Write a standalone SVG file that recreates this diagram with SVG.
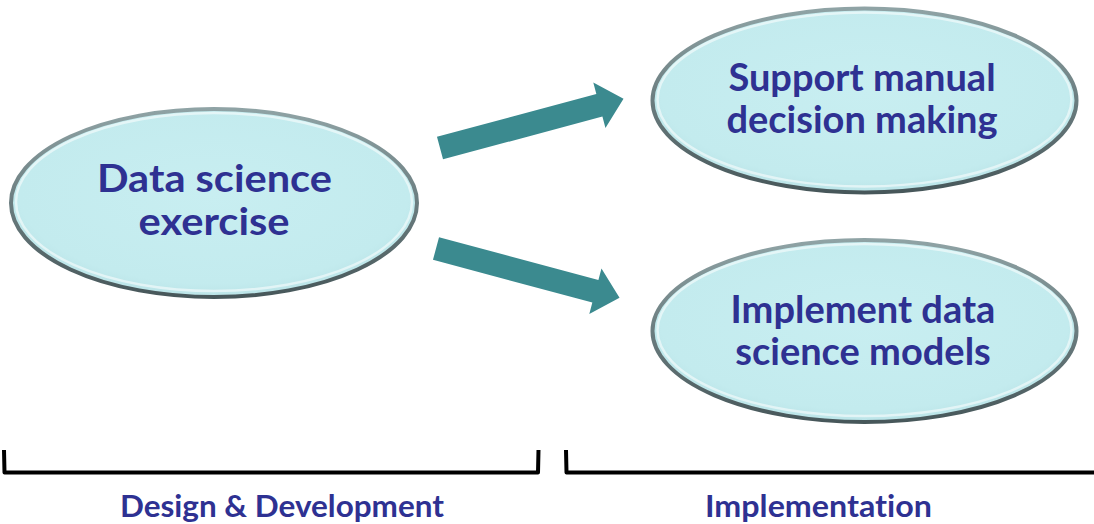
<svg xmlns="http://www.w3.org/2000/svg" width="1094" height="524" viewBox="0 0 1094 524">
<style>
.lbl{font-family:Lato,"Open Sans","Liberation Sans",sans-serif;font-weight:bold;fill:#2E3192;text-anchor:middle;font-variant-ligatures:none}
.big{font-size:38px}
.small{font-size:30px}
.arrow{fill:#3B8A8F}
.bracket{fill:none;stroke:#000;stroke-width:4;stroke-linejoin:round}
.oval{fill:url(#fillG);stroke:url(#edgeG);stroke-width:4}
.hi{fill:none;stroke:#ffffff;stroke-opacity:0.55;stroke-width:2.5}
</style>
<defs>
<radialGradient id="fillG" cx="0.5" cy="0.45" r="0.6">
<stop offset="0" stop-color="#C8EEF1"/>
<stop offset="0.8" stop-color="#C3EBEE"/>
<stop offset="1" stop-color="#B5DFE3"/>
</radialGradient>
<linearGradient id="edgeG" x1="0" y1="0" x2="0" y2="1">
<stop offset="0" stop-color="#8FA3A5"/>
<stop offset="1" stop-color="#47575A"/>
</linearGradient>
<polygon id="arr" points="0,-11.7 165,-11.7 165,-23.5 190,0 165,23.5 165,11.7 0,11.7"/>
</defs>
<rect width="1094" height="524" fill="#ffffff"/>
<g id="connectors">
<use href="#arr" class="arrow" transform="translate(440,148) rotate(-15)"/>
<use href="#arr" class="arrow" transform="translate(436,248.5) rotate(15)"/>
</g>
<g id="node-exercise">
<ellipse class="oval" cx="214" cy="203" rx="203" ry="94"/>
<ellipse class="hi" cx="214" cy="202" rx="198" ry="89"/>
<text class="lbl big"><tspan x="214.5" y="191.5" textLength="235" lengthAdjust="spacingAndGlyphs">Data science</tspan><tspan x="214" y="235" textLength="151" lengthAdjust="spacingAndGlyphs">exercise</tspan></text>
</g>
<g id="node-support">
<ellipse class="oval" cx="864.5" cy="100.5" rx="212" ry="92"/>
<ellipse class="hi" cx="864.5" cy="99.5" rx="207" ry="87"/>
<text class="lbl big"><tspan x="862" y="91">Support manual</tspan><tspan x="862" y="133">decision making</tspan></text>
</g>
<g id="node-implement">
<ellipse class="oval" cx="864.5" cy="331" rx="212" ry="91"/>
<ellipse class="hi" cx="864.5" cy="330" rx="207" ry="86"/>
<text class="lbl big"><tspan x="863" y="323">Implement data</tspan><tspan x="863" y="365">science models</tspan></text>
</g>
<g id="phase-design">
<path class="bracket" d="M4,450 L4.5,472.5 L538,472.5 L538.5,450"/>
<text class="lbl small" x="282" y="517" textLength="324" lengthAdjust="spacingAndGlyphs">Design &amp; Development</text>
</g>
<g id="phase-implementation">
<path class="bracket" d="M566,450 L566.5,472.5 L1096,472.5"/>
<text class="lbl small" x="818.5" y="517" textLength="227" lengthAdjust="spacingAndGlyphs">Implementation</text>
</g>
</svg>
